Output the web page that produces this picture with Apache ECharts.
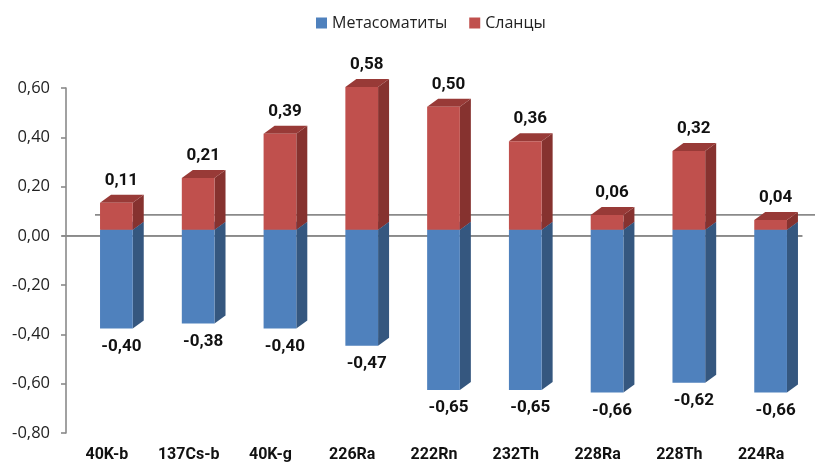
<!DOCTYPE html>
<html>
<head>
<meta charset="utf-8">
<script src="https://cdn.jsdelivr.net/npm/echarts@6/dist/echarts.min.js"></script>
<style>
    html, body { margin: 0; padding: 0; background: #fff; }
    #chart { width: 816px; height: 466px; }
</style>
</head>
<body>
<div id="chart"></div>
<script>
var categories = ['40K-b', '137Cs-b', '40K-g', '226Ra', '222Rn', '232Th', '228Ra', '228Th', '224Ra'];
var metasomatites = [-0.40, -0.38, -0.40, -0.47, -0.65, -0.65, -0.66, -0.62, -0.66];
var slates = [0.11, 0.21, 0.39, 0.58, 0.50, 0.36, 0.06, 0.32, 0.04];
var seriesNames = ['Метасоматиты', 'Сланцы'];

var labelFont = 'Roboto, "Open Sans", sans-serif';
var plainFont = '"Open Sans", "Liberation Sans", sans-serif';

function fmt(v) {
    return v.toFixed(2).replace('.', ',');
}

// 3d look: front face lifted a bit, depth going right/up
var DX = 11, DY = -8, LIFT = -6, SHIFT = 9.5;

function bar3d(colors) {
    return function (params, api) {
        var idx = api.value(0);
        var val = api.value(1);
        var base = api.coord([idx, 0]);
        var end = api.coord([idx, val]);
        var w = api.size([1, 0])[0] * 0.4;
        var x0 = base[0] + SHIFT - w / 2;
        var top = Math.min(base[1], end[1]) + LIFT;
        var bottom = Math.max(base[1], end[1]) + LIFT;
        var children = [
            {
                type: 'polygon',
                shape: { points: [[x0 + w, top], [x0 + w + DX, top + DY], [x0 + w + DX, bottom + DY], [x0 + w, bottom]] },
                style: { fill: colors.side }
            },
            {
                type: 'polygon',
                shape: { points: [[x0, top], [x0 + DX, top + DY], [x0 + w + DX, top + DY], [x0 + w, top]] },
                style: { fill: colors.top }
            },
            {
                type: 'rect',
                shape: { x: x0, y: top, width: w, height: bottom - top },
                style: { fill: colors.front }
            },
            {
                type: 'text',
                x: x0 + w / 2 + 5,
                y: val >= 0 ? top - 22 : bottom + 18,
                style: {
                    text: fmt(val),
                    align: 'center',
                    verticalAlign: 'middle',
                    font: 'bold 17px ' + labelFont,
                    fill: '#111'
                }
            }
        ];
        return { type: 'group', children: children };
    };
}

function lines(params, api) {
    var cs = params.coordSys;
    var zero = api.coord([0, 0]);
    return {
        type: 'group',
        children: [
            {
                type: 'line',
                shape: { x1: cs.x - 4, y1: zero[1], x2: cs.x + cs.width, y2: zero[1] },
                style: { stroke: '#8a8a8a', lineWidth: 1.6 }
            },
            {
                type: 'line',
                shape: { x1: cs.x + 29, y1: zero[1] - 21, x2: cs.x + cs.width + 13, y2: zero[1] - 21 },
                style: { stroke: '#8a8a8a', lineWidth: 1.6 }
            }
        ]
    };
}

var chart = echarts.init(document.getElementById('chart'));
var option = {
    animation: false,
    legend: {
        data: seriesNames,
        left: 311,
        top: 10,
        icon: 'rect',
        itemWidth: 11,
        itemHeight: 11,
        itemGap: 22,
        textStyle: { fontFamily: plainFont, fontSize: 16, color: '#222' }
    },
    grid: { left: 66, right: 14, top: 88, bottom: 33 },
    xAxis: {
        type: 'category',
        data: categories,
        axisLine: { lineStyle: { color: '#8a8a8a', width: 1.6 } },
        axisTick: { show: false },
        axisLabel: {
            interval: 0,
            margin: 14,
            fontFamily: labelFont,
            fontWeight: 'bold',
            fontSize: 16,
            color: '#111'
        }
    },
    yAxis: {
        type: 'value',
        min: -0.8,
        max: 0.6,
        interval: 0.2,
        axisLine: { show: true, lineStyle: { color: '#8a8a8a', width: 1.6 } },
        axisTick: { show: true, length: 5, lineStyle: { color: '#8a8a8a', width: 1.6 } },
        splitLine: { show: false },
        axisLabel: {
            margin: 16,
            fontFamily: plainFont,
            fontSize: 16.5,
            color: '#222',
            formatter: function (v) { return fmt(v); }
        }
    },
    series: [
        {
            type: 'custom',
            name: 'lines',
            silent: true,
            renderItem: lines,
            data: [[0, 0]],
            z: 1
        },
        {
            type: 'custom',
            name: seriesNames[0],
            itemStyle: { color: '#4f81bd' },
            renderItem: bar3d({ front: '#4f81bd', side: '#35577f', top: '#3f6aa0' }),
            data: metasomatites.map(function (v, i) { return [i, v]; }),
            clip: false,
            z: 2
        },
        {
            type: 'custom',
            name: seriesNames[1],
            itemStyle: { color: '#c0504d' },
            renderItem: bar3d({ front: '#c0504d', side: '#86322f', top: '#983a37' }),
            data: slates.map(function (v, i) { return [i, v]; }),
            clip: false,
            z: 3
        }
    ]
};
chart.setOption(option);
</script>
</body>
</html>
